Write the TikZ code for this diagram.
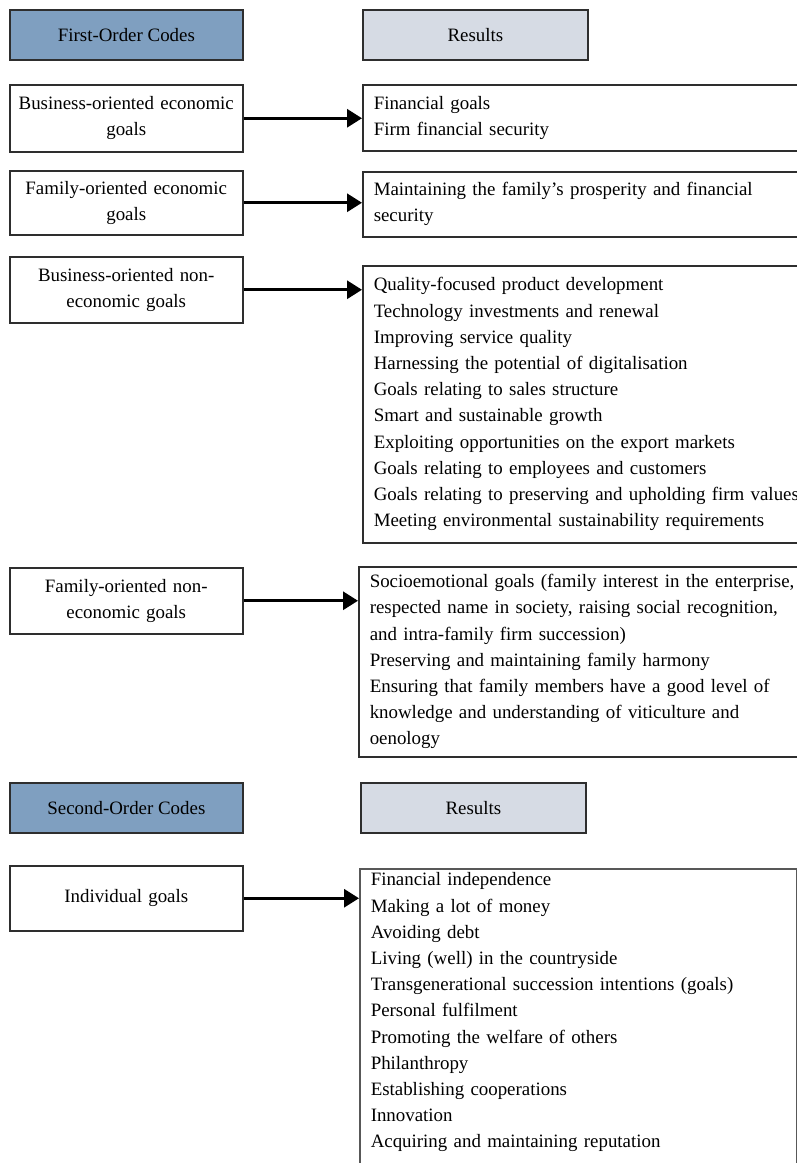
\documentclass[tikz,border=0pt]{standalone}
\usepackage{fontspec}
\setmainfont{Liberation Serif}
\usetikzlibrary{arrows.meta}
\definecolor{hdrblue}{HTML}{7F9FC0}
\definecolor{hdrgray}{HTML}{D6DBE4}
\definecolor{edgecol}{HTML}{2E2E2E}
\begin{document}
\begin{tikzpicture}[x=1pt,y=-1pt,
  every node/.style={font=\fontsize{18.9}{26.2}\selectfont},
  hdrbox/.style={draw=edgecol, line width=1.8pt, fill=hdrblue, minimum width=233pt, minimum height=50pt, anchor=north west, inner sep=0pt},
  reshdr/.style={draw=edgecol, line width=1.8pt, fill=hdrgray, minimum width=225pt, minimum height=50pt, anchor=north west, inner sep=0pt},
  codebox/.style={draw=edgecol, line width=1.5pt, minimum width=233pt, text width=225pt, align=center, anchor=north west, inner xsep=4pt, inner ysep=0pt},
  resbox/.style={draw=edgecol, line width=1.5pt, align=left, anchor=north west, inner xsep=11pt, inner ysep=2pt, text width=450pt},
  link/.style={line width=3pt, -{Triangle[length=15pt,width=18pt]}}
]
\useasboundingbox (0,0) rectangle (797,1163);
\fill[white] (0,0) rectangle (797,1163);
\clip (0,0) rectangle (797,1163);

\node[hdrbox] (h1) at (9,9) {First-Order Codes};
\node[reshdr] (rh1) at (362,9) {Results};

\node[codebox, minimum height=67pt] (c1) at (9,84) {Business-oriented economic\\goals};
\node[resbox, minimum height=66pt] (r1) at (362,84) {Financial goals\\Firm financial security};

\node[codebox, minimum height=64pt] (c2) at (9,170) {Family-oriented economic\\goals};
\node[resbox, minimum height=65pt] (r2) at (362,171) {Maintaining the family’s prosperity and financial\\security};

\node[codebox, minimum height=66pt] (c3) at (9,256) {Business-oriented non-\\economic goals};
\node[resbox, minimum height=277pt] (r3) at (362,265) {Quality-focused product development\\
Technology investments and renewal\\
Improving service quality\\
Harnessing the potential of digitalisation\\
Goals relating to sales structure\\
Smart and sustainable growth\\
Exploiting opportunities on the export markets\\
Goals relating to employees and customers\\
Goals relating to preserving and upholding firm values\\
Meeting environmental sustainability requirements};

\node[codebox, minimum height=66pt] (c4) at (9,567) {Family-oriented non-\\economic goals};
\node[resbox, minimum height=190pt] (r4) at (358,566) {Socioemotional goals (family interest in the enterprise,\\
respected name in society, raising social recognition,\\
and intra-family firm succession)\\
Preserving and maintaining family harmony\\
Ensuring that family members have a good level of\\
knowledge and understanding of viticulture and\\
oenology};

\node[hdrbox] (h2) at (9,782) {Second-Order Codes};
\node[reshdr] (rh2) at (360,782) {Results};

\node[codebox, minimum height=65pt] (c5) at (9,865) {Individual goals};
\node[resbox, draw=edgecol!80, inner ysep=4pt, text width=415pt] (r5) at (359,868) {Financial independence\\
Making a lot of money\\
Avoiding debt\\
Living (well) in the countryside\\
Transgenerational succession intentions (goals)\\
Personal fulfilment\\
Promoting the welfare of others\\
Philanthropy\\
Establishing cooperations\\
Innovation\\
Acquiring and maintaining reputation\\
\rule{0pt}{60pt}};

\draw[link] (c1.east) -- (c1.east -| r1.west);
\draw[link] (c2.east) -- (c2.east -| r2.west);
\draw[link] (c3.east) -- (c3.east -| r3.west);
\draw[link] (c4.east) -- (c4.east -| r4.west);
\draw[link] (c5.east) -- (c5.east -| r5.west);
\end{tikzpicture}
\end{document}
